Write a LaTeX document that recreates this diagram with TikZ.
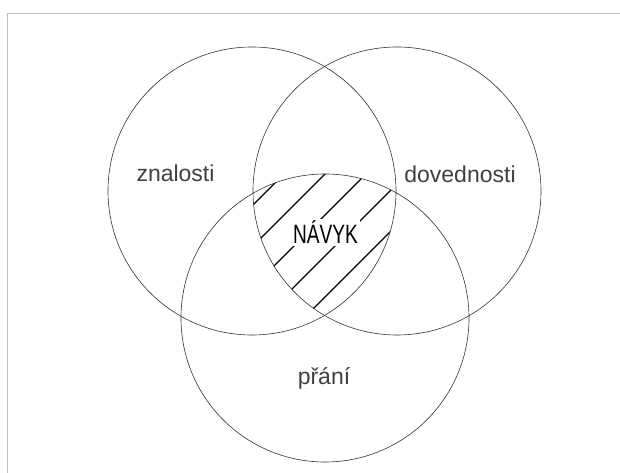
\documentclass[tikz,border=0pt]{standalone}
\usepackage{fontspec}
\setmainfont{Liberation Sans}
\usepackage{tikz}

\tikzset{
  set/.style={draw=black!80, line width=0.45pt},
  setlabel/.style={anchor=base, inner sep=0pt, text=black!75, font=\fontsize{17.25}{20}\selectfont},
  hatch/.style={line width=0.9pt},
}

\begin{document}
\begin{tikzpicture}[x=0.75pt,y=0.75pt]
\useasboundingbox (0,0) rectangle (620,473);
\draw[black!25, line width=0.75pt] (7.6,0) -- (7.6,459) -- (620,459);

\coordinate (znalosti) at (252,282);
\coordinate (dovednosti) at (397,282);
\coordinate (prani) at (325,155);

\begin{scope}
\clip (znalosti) circle[radius=144];
\clip (dovednosti) circle[radius=144];
\clip (prani) circle[radius=144];
\foreach \c in {458,499,540,581,622}
  \draw[hatch] (240,713-\c) -- (420,893-\c);
\end{scope}

\draw[set] (znalosti) circle[radius=144];
\draw[set] (dovednosti) circle[radius=144];
\draw[set] (prani) circle[radius=144];

\node[setlabel] (lblznalosti) at (175.5,291) {znalosti};
\node[setlabel] (lbldovednosti) at (460,290) {dovednosti};
\node[setlabel] (lblprani) at (324,88) {přání};
\node[anchor=base, fill=white, inner xsep=2pt, inner ysep=1.5pt, xscale=0.72, transform shape,
      font=\fontsize{19.9}{22}\selectfont] (navyk) at (325.5,229) {NÁVYK};
\end{tikzpicture}
\end{document}
